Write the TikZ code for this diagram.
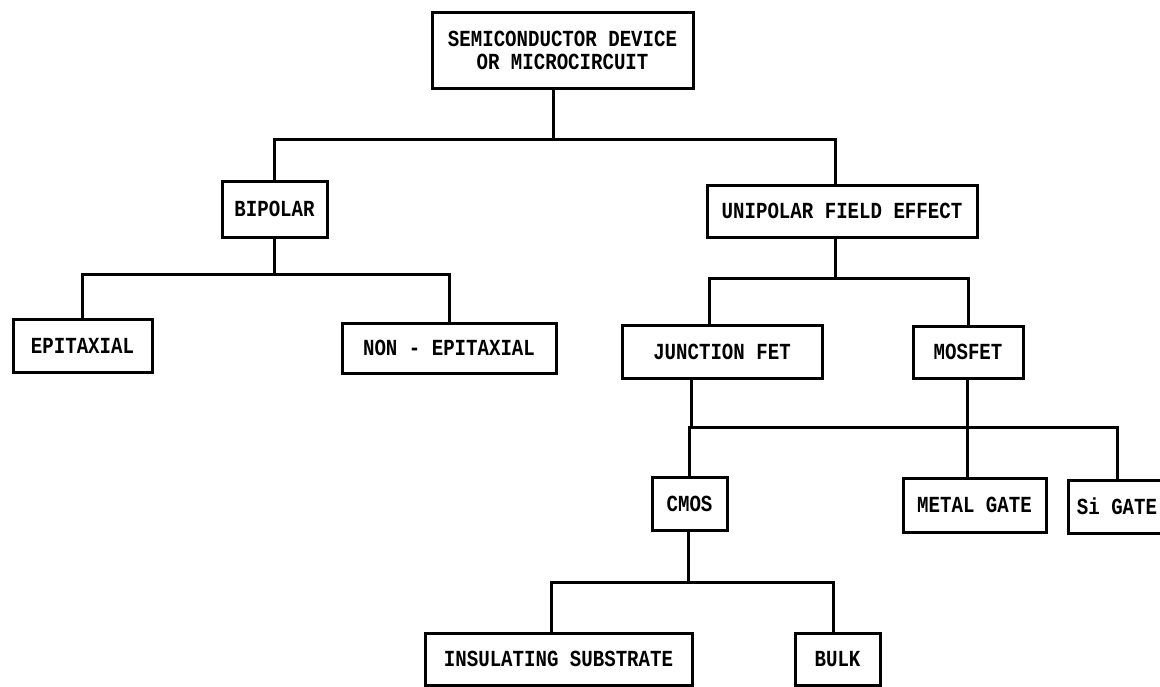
\documentclass[tikz,border=0pt]{standalone}
\usepackage{fontspec}
\setmonofont[FakeStretch=0.83]{Liberation Mono}
\begin{document}
\begin{tikzpicture}[x=1pt,y=-1pt,
  box/.style={draw, line width=3pt, rectangle, inner sep=0pt,
    font=\ttfamily\bfseries\fontsize{23}{23}\selectfont, align=center},
  conn/.style={line width=3pt, line cap=rect}]
\useasboundingbox (0,0) rectangle (1160,686);
\clip (0,0) rectangle (1160,686);
\fill[white] (0,0) rectangle (1160,686);

\node[box, minimum width=261pt, minimum height=76pt] (top) at (562.5,50) {SEMICONDUCTOR DEVICE\\OR MICROCIRCUIT};
\node[box, minimum width=105pt, minimum height=56pt] (bip) at (274.5,209) {BIPOLAR};
\node[box, minimum width=270pt, minimum height=52pt] (uni) at (842,211) {UNIPOLAR FIELD EFFECT};
\node[box, minimum width=139pt, minimum height=53pt] (epi) at (82.5,345.5) {EPITAXIAL};
\node[box, minimum width=214pt, minimum height=50pt] (nonepi) at (449,348) {NON - EPITAXIAL};
\node[box, minimum width=200pt, minimum height=53pt] (jfet) at (722,351.5) {JUNCTION FET};
\node[box, minimum width=110pt, minimum height=52pt] (mosfet) at (968,352) {MOSFET};
\node[box, minimum width=75pt, minimum height=53pt] (cmos) at (689.5,503.5) {CMOS};
\node[box, minimum width=143pt, minimum height=54pt] (metal) at (974.5,505) {METAL GATE};
\node[box, minimum width=98pt, minimum height=53pt] (si) at (1117,506.5) {Si GATE};
\node[box, minimum width=267pt, minimum height=52pt] (ins) at (558.5,659) {INSULATING SUBSTRATE};
\node[box, minimum width=85pt, minimum height=52pt] (bulk) at (837.5,659) {BULK};

\coordinate (b1) at (553,139);
\coordinate (b2) at (274.5,274);
\coordinate (b3) at (835,278);
\coordinate (b4) at (900,427);
\coordinate (b5) at (688,582);

\draw[conn] ([xshift=-9.5pt]top.south) -- (b1);
\draw[conn] (bip.north) |- (b1) -| ([xshift=-7pt]uni.north);

\draw[conn] (bip.south) -- (b2);
\draw[conn] (epi.north) |- (b2) -| (nonepi.north);

\draw[conn] ([xshift=-7pt]uni.south) -- (b3);
\draw[conn] ([xshift=-13pt]jfet.north) |- (b3) -| (mosfet.north);

\draw[conn] ([xshift=-31pt]jfet.south) |- (b4) -| (si.north);
\draw[conn] ([xshift=-1pt]mosfet.south) -- ([xshift=-7.5pt]metal.north);
\draw[conn] ([xshift=-0.5pt]cmos.north) -- ([xshift=-0.5pt]cmos.north |- b4);

\draw[conn] ([xshift=-1.5pt]cmos.south) -- (b5);
\draw[conn] ([xshift=-7.5pt]ins.north) |- (b5) -| ([xshift=-4.5pt]bulk.north);
\end{tikzpicture}
\end{document}
